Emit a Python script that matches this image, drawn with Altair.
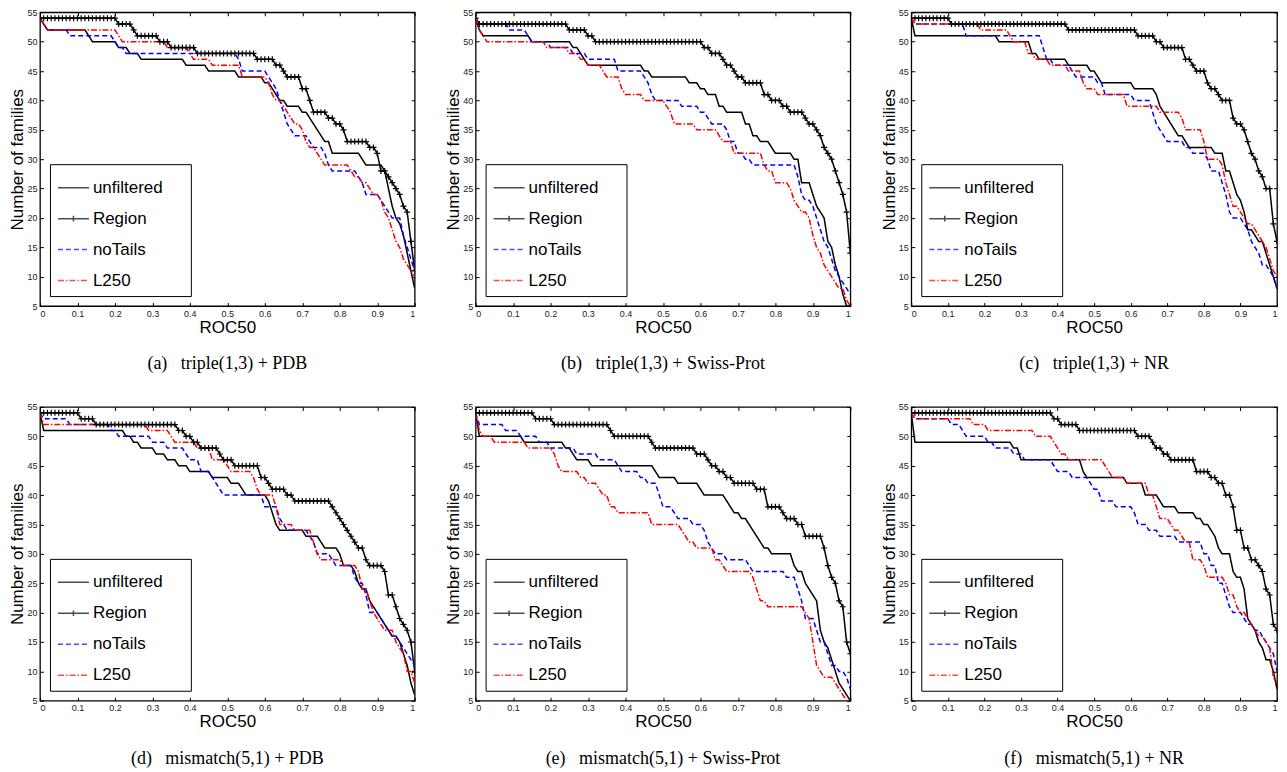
import altair as alt
import pandas as pd

SERIES = ["unfiltered", "Region", "noTails", "L250"]
COLORS = ["black", "black", "blue", "red"]
DASHES = [[1, 0], [1, 0], [5, 3], [6, 2, 1.5, 2]]
LEGEND_SHAPES = ["M-1,0H1", "M-1,0H1M0,-0.18V0.18", "M-1,0H1", "M-1,0H1"]
X_TICKS = [0, 0.1, 0.2, 0.3, 0.4, 0.5, 0.6, 0.7, 0.8, 0.9, 1]
Y_TICKS = [5, 10, 15, 20, 25, 30, 35, 40, 45, 50, 55]
THRESH = [i / 100 for i in range(101)]  # ROC50 thresholds 0.00 .. 1.00

CAPTIONS = [
    "(a)\u00a0\u00a0 triple(1,3) + PDB",
    "(b)\u00a0\u00a0 triple(1,3) + Swiss-Prot",
    "(c)\u00a0\u00a0 triple(1,3) + NR",
    "(d)\u00a0\u00a0 mismatch(5,1) + PDB",
    "(e)\u00a0\u00a0 mismatch(5,1) + Swiss-Prot",
    "(f)\u00a0\u00a0 mismatch(5,1) + NR",
]

# Each series: (threshold in hundredths from which the value holds, number of families)
A_UNF = [(0,54),(1,53),(2,52),(13,51),(14,50),(21,49),(24,48),(27,47),(39,46),(45,45),(53,44),(60,43),(62,42),(63,41),(64,40),(66,39),(70,38),(72,37),(73,36),(74,35),(75,34),(76,33),(78,31),(86,30),(87,29),(92,28),(93,25),(94,22),(95,20),(96,19),(97,17),(98,14),(99,11),(100,8)]
A_REG = [(0,54),(21,53),(25,52),(26,51),(32,50),(35,49),(42,48),(58,47),(63,46),(65,45),(66,44),(70,42),(72,40),(73,38),(77,37),(79,36),(81,35),(82,33),(88,32),(90,31),(91,28),(93,27),(94,26),(95,25),(96,24),(97,22),(98,21),(99,16),(100,11)]
A_NT = [(0,54),(1,53),(2,52),(8,51),(20,50),(21,49),(23,48),(53,47),(54,45),(61,44),(62,43),(63,42),(64,40),(65,38),(66,36),(67,35),(68,34),(72,33),(73,32),(76,31),(77,29),(78,28),(85,27),(86,26),(87,24),(91,23),(92,22),(93,21),(94,20),(97,17),(98,15),(99,13),(100,11)]
A_L250 = [(0,54),(1,53),(2,52),(21,51),(22,50),(34,49),(40,48),(41,47),(46,46),(54,44),(61,43),(62,41),(63,40),(65,39),(66,38),(67,37),(68,36),(70,35),(71,33),(72,32),(74,31),(75,30),(76,29),(83,28),(84,27),(86,26),(88,25),(89,24),(91,23),(92,21),(93,20),(94,18),(95,16),(96,15),(97,13),(98,12),(99,11),(100,10)]

B_UNF = [(0,54),(1,52),(2,51),(15,50),(26,49),(28,48),(29,47),(30,46),(45,45),(47,44),(57,43),(60,42),(62,41),(65,39),(67,38),(72,36),(74,34),(76,33),(79,32),(80,31),(85,30),(87,26),(90,24),(91,22),(92,21),(93,20),(94,16),(95,15),(96,12),(97,10),(98,7),(99,5)]
B_REG = [(0,54),(1,53),(25,52),(30,51),(32,50),(61,49),(63,48),(66,47),(67,46),(69,45),(70,44),(72,43),(77,41),(79,40),(82,39),(84,38),(88,37),(89,36),(91,35),(92,34),(93,32),(94,31),(95,30),(96,28),(97,26),(98,24),(99,21),(100,14)]
B_NT = [(0,54),(1,53),(9,52),(14,51),(15,50),(20,49),(26,48),(30,47),(38,45),(45,44),(46,43),(47,41),(48,40),(55,39),(60,38),(62,37),(63,36),(67,35),(68,33),(70,31),(72,30),(74,29),(86,27),(87,24),(88,23),(90,22),(91,20),(92,18),(93,16),(94,15),(95,13),(96,11),(97,10),(98,9),(99,8),(100,7)]
B_L250 = [(0,54),(1,52),(2,51),(3,50),(19,49),(25,48),(28,47),(30,46),(34,45),(35,44),(39,42),(40,41),(45,40),(51,39),(52,38),(53,36),(59,35),(65,34),(66,33),(69,31),(77,29),(78,28),(80,26),(84,25),(85,23),(86,22),(87,21),(89,20),(90,17),(91,15),(92,14),(93,12),(94,11),(95,10),(96,9),(97,8),(99,6),(100,5)]

C_UNF = [(0,54),(1,51),(24,50),(33,48),(35,47),(43,46),(49,45),(51,44),(52,43),(61,42),(67,41),(68,39),(69,38),(70,37),(71,36),(72,35),(73,34),(75,33),(76,32),(83,31),(86,28),(88,26),(89,24),(90,23),(91,21),(92,18),(94,17),(95,16),(97,14),(98,12),(99,10),(100,8)]
C_REG = [(0,54),(11,53),(43,52),(62,51),(67,50),(69,49),(75,47),(77,46),(78,45),(81,43),(82,42),(84,41),(85,40),(88,37),(89,36),(91,35),(92,33),(93,31),(94,30),(95,28),(96,27),(97,25),(99,19),(100,16)]
C_NT = [(0,54),(1,53),(15,51),(36,49),(37,47),(39,46),(44,45),(45,44),(51,43),(53,41),(61,40),(66,38),(67,36),(68,35),(69,34),(70,33),(75,32),(77,31),(81,30),(82,28),(85,26),(86,24),(87,21),(88,20),(91,19),(92,18),(93,16),(94,15),(95,14),(96,12),(98,11),(99,10),(100,8)]
C_L250 = [(0,54),(1,53),(19,52),(27,51),(28,50),(32,48),(34,47),(38,46),(43,45),(47,43),(48,42),(51,41),(59,39),(68,38),(74,37),(75,35),(80,33),(81,30),(85,29),(86,26),(87,24),(88,22),(90,21),(91,20),(92,19),(94,18),(95,17),(96,16),(97,15),(98,13),(99,11),(100,10)]

D_UNF = [(0,54),(1,51),(23,50),(25,49),(27,48),(31,47),(34,46),(37,45),(40,44),(46,43),(51,42),(54,41),(55,40),(61,39),(62,37),(63,35),(64,34),(71,33),(75,32),(76,31),(80,30),(81,28),(84,27),(85,25),(86,24),(88,22),(89,21),(90,20),(91,19),(92,18),(93,17),(94,16),(96,15),(97,13),(98,11),(99,8),(100,6)]
D_REG = [(0,54),(11,53),(15,52),(37,51),(39,50),(41,49),(43,48),(48,47),(49,46),(52,45),(59,43),(61,42),(62,41),(66,40),(68,39),(78,38),(79,37),(80,36),(81,35),(82,34),(83,33),(84,32),(85,31),(87,29),(88,28),(92,27),(93,23),(95,21),(96,19),(97,18),(98,17),(99,15),(100,10)]
D_NT = [(0,54),(1,53),(8,52),(19,51),(21,50),(30,49),(34,48),(39,47),(40,46),(43,44),(46,43),(47,42),(48,41),(49,40),(60,38),(64,36),(65,35),(66,34),(72,33),(73,32),(74,30),(78,29),(79,28),(84,26),(85,25),(87,23),(88,20),(91,19),(92,18),(93,17),(94,16),(96,15),(97,14),(98,13),(99,12),(100,11)]
D_L250 = [(0,54),(1,52),(29,51),(35,50),(36,49),(42,48),(46,46),(50,45),(51,44),(57,43),(58,41),(59,40),(63,38),(64,35),(68,34),(73,32),(74,30),(75,29),(81,28),(85,27),(86,24),(88,22),(89,20),(90,19),(91,18),(92,17),(95,15),(96,14),(97,13),(98,10),(100,8)]

E_UNF = [(0,54),(1,50),(13,49),(24,48),(26,47),(27,46),(31,45),(48,44),(49,43),(54,42),(60,41),(61,40),(67,39),(68,38),(69,37),(71,36),(73,35),(74,34),(75,33),(76,32),(77,31),(79,30),(85,28),(86,27),(88,25),(89,24),(90,23),(91,22),(92,17),(93,15),(94,14),(95,12),(96,10),(97,8),(98,7),(99,6),(100,5)]
E_REG = [(0,54),(16,53),(21,52),(36,51),(37,50),(47,49),(48,48),(59,47),(62,46),(63,45),(65,44),(67,43),(69,42),(75,41),(78,38),(82,37),(83,36),(86,35),(88,33),(93,31),(94,28),(95,26),(96,25),(97,22),(98,21),(99,15),(100,13)]
E_NT = [(0,54),(1,52),(8,51),(12,50),(17,49),(20,48),(27,47),(33,46),(38,45),(39,44),(44,43),(46,42),(49,40),(50,38),(53,37),(54,36),(58,35),(61,34),(62,32),(63,31),(64,30),(67,29),(73,28),(74,27),(83,26),(86,24),(87,22),(88,19),(91,17),(92,15),(94,13),(95,11),(97,10),(99,9),(100,7)]
E_L250 = [(0,54),(1,51),(2,50),(5,49),(14,48),(21,47),(22,45),(23,44),(28,43),(30,42),(33,41),(34,40),(36,38),(38,37),(47,35),(55,34),(56,33),(57,32),(59,31),(64,29),(66,28),(67,27),(74,26),(75,24),(76,22),(78,21),(88,20),(89,19),(90,15),(91,11),(92,10),(93,9),(96,8),(97,7),(98,6),(99,5)]

F_UNF = [(0,54),(1,49),(28,48),(30,46),(47,44),(48,43),(59,42),(64,40),(68,39),(69,38),(73,37),(78,36),(80,35),(82,34),(83,33),(84,31),(85,30),(88,27),(89,26),(91,24),(92,19),(93,18),(94,17),(95,15),(96,14),(97,12),(99,10),(100,7)]
F_REG = [(0,54),(39,53),(41,52),(46,51),(62,50),(66,49),(67,48),(69,47),(71,46),(78,44),(82,43),(84,42),(86,40),(88,38),(89,34),(91,31),(93,29),(95,28),(96,27),(97,24),(98,23),(99,18),(100,17)]
F_NT = [(0,54),(1,53),(11,52),(14,51),(15,50),(21,49),(23,48),(28,47),(31,46),(39,45),(40,44),(44,43),(49,42),(50,41),(52,39),(56,38),(61,37),(62,35),(65,34),(68,33),(73,32),(80,30),(82,28),(84,25),(86,23),(87,21),(88,20),(91,19),(92,18),(94,17),(96,16),(97,15),(98,14),(99,13),(100,10)]
F_L250 = [(0,54),(1,53),(17,52),(21,51),(34,50),(39,49),(40,48),(41,47),(43,46),(53,45),(54,44),(55,43),(59,42),(65,40),(67,38),(68,36),(71,35),(72,34),(74,33),(75,32),(77,29),(80,28),(81,26),(86,25),(87,23),(89,21),(90,20),(92,19),(93,18),(94,17),(95,16),(97,15),(98,14),(99,9),(100,8)]

PANELS = [
    (A_UNF, A_REG, A_NT, A_L250),
    (B_UNF, B_REG, B_NT, B_L250),
    (C_UNF, C_REG, C_NT, C_L250),
    (D_UNF, D_REG, D_NT, D_L250),
    (E_UNF, E_REG, E_NT, E_L250),
    (F_UNF, F_REG, F_NT, F_L250),
]
PANEL_W = [375, 375, 366, 375, 375, 366]
PANEL_H = 294


def decode(steps):
    """Step list -> value at every threshold (value holds until the next step)."""
    out = []
    j = 0
    for i in range(len(THRESH)):
        while j + 1 < len(steps) and steps[j + 1][0] <= i:
            j += 1
        out.append(steps[j][1])
    return out


TICK = 3.5
PLUS = "M-1,0H1M0,-1V1"

legend = alt.Legend(
    orient="none", legendX=10, legendY=152,
    title="MM", titleOrient="right", titleOpacity=0, titleFontSize=12.5, titlePadding=0,
    symbolType="stroke", symbolSize=961, symbolStrokeWidth=1.5,
    symbolOffset=0, labelOffset=3, rowPadding=6, padding=7,
    labelFont="Liberation Sans", labelFontSize=17, labelColor="black",
    strokeColor="black", fillColor="white",
)


def panel(k):
    rows = []
    for name, steps in zip(SERIES, PANELS[k]):
        for t, v in zip(THRESH, decode(steps)):
            rows.append({"x": t, "y": v, "series": name})
    df = pd.DataFrame(rows)
    xs = alt.Scale(domain=[0, 1], nice=False, zero=False)
    ys = alt.Scale(domain=[5, 55], nice=False, zero=False)
    base = alt.Chart(df)
    lines = base.mark_line(strokeWidth=1.5, clip=True).encode(
        x=alt.X("x:Q", scale=xs, axis=alt.Axis(
            values=X_TICKS, title="ROC50", orient="bottom", grid=False, domain=False,
            offset=-TICK, tickSize=TICK, labelPadding=3, titlePadding=1,
            labelExpr="datum.value == 0 ? '0' : datum.value == 1 ? '1' : format(datum.value, '.1f')")),
        y=alt.Y("y:Q", scale=ys, axis=alt.Axis(
            values=Y_TICKS, title="Number of families", orient="left", grid=False, domain=False,
            offset=-TICK, tickSize=TICK, labelPadding=3, titlePadding=0)),
        color=alt.Color("series:N", scale=alt.Scale(domain=SERIES, range=COLORS), legend=legend),
        strokeDash=alt.StrokeDash("series:N", scale=alt.Scale(domain=SERIES, range=DASHES), legend=legend),
    )
    marks = base.transform_filter(alt.datum.series == "Region").mark_point(
        shape=PLUS, filled=False, size=36, stroke="black", strokeWidth=1.2, opacity=1, clip=True
    ).encode(
        x=alt.X("x:Q", axis=alt.Axis(values=X_TICKS, orient="top", labels=False, title=None, grid=False,
                                    domain=False, offset=-TICK, tickSize=TICK)),
        y=alt.Y("y:Q", axis=alt.Axis(values=Y_TICKS, orient="right", labels=False, title=None, grid=False,
                                    domain=False, offset=-TICK, tickSize=TICK)),
    )
    # legend-only layer: carries the symbol shapes (Region has a '+' on its line)
    key = base.transform_filter("false").mark_point(filled=False).encode(
        x=alt.X("x:Q", axis=None),
        y=alt.Y("y:Q", axis=None),
        shape=alt.Shape("series:N", scale=alt.Scale(domain=SERIES, range=LEGEND_SHAPES), legend=legend),
    )
    return alt.layer(lines, marks, key).resolve_axis(x="independent", y="independent").properties(
        width=PANEL_W[k], height=PANEL_H,
        title=alt.Title(CAPTIONS[k], orient="bottom", frame="group", anchor="middle", offset=20),
    )


chart = alt.concat(
    *[panel(k) for k in range(6)], columns=3,
    spacing={"row": 101, "column": 61}, bounds="flush",
).resolve_scale(
    color="independent", strokeDash="independent", shape="independent", x="independent", y="independent"
).properties(
    padding={"left": 0, "top": -1, "right": 0, "bottom": 0}, background="white"
).configure_view(
    stroke="black", strokeWidth=1.3
).configure_axis(
    labelFont="Liberation Sans", labelFontSize=9, labelColor="#222",
    titleFont="Liberation Sans", titleFontSize=17, titleFontWeight="normal", titleColor="black",
    tickColor="black", tickWidth=1,
).configure_title(
    font="Liberation Serif", fontSize=18, fontWeight="normal", color="black"
)

chart.save("out.html", embed_options={"renderer": "svg", "actions": False})
